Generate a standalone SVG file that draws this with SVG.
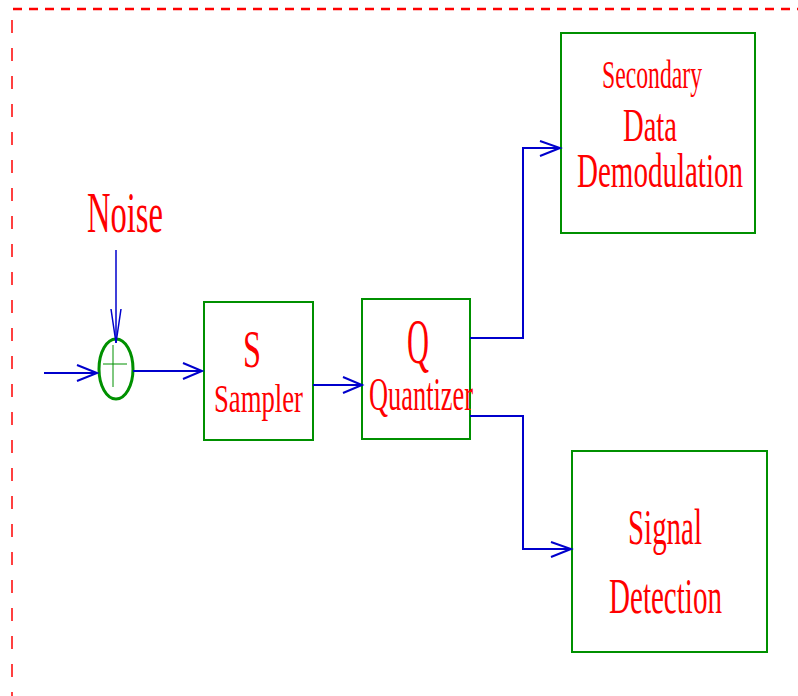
<svg xmlns="http://www.w3.org/2000/svg" width="798" height="696" viewBox="0 0 798 696">
<style>
.box{fill:none;stroke:#009000;stroke-width:2}
.con{fill:none;stroke:#0000cc;stroke-width:2}
.t{font-family:"Liberation Serif","Times New Roman",serif;fill:#ff0000}
</style>
<rect width="798" height="696" fill="#ffffff"/>
<g id="frame">
<line x1="13" y1="9" x2="798" y2="9" stroke="#ff0000" stroke-width="2.5" stroke-dasharray="9 7"/>
<line x1="12" y1="20" x2="12" y2="696" stroke="#ff4040" stroke-width="2" stroke-dasharray="13 15"/>
</g>
<g id="noise">
<text class="t" x="87" y="232" font-size="56" textLength="76" lengthAdjust="spacingAndGlyphs">Noise</text>
</g>
<g id="sum">
<ellipse cx="116" cy="369" rx="17" ry="30" fill="none" stroke="#009000" stroke-width="3"/>
<line x1="103" y1="364" x2="127" y2="364" stroke="#009000" stroke-width="1"/>
<line x1="113" y1="345" x2="113" y2="387" stroke="#009000" stroke-width="1"/>
</g>
<g id="sampler">
<rect class="box" x="204" y="302" width="109" height="138"/>
<text class="t" x="243" y="367" font-size="52" textLength="18" lengthAdjust="spacingAndGlyphs">S</text>
<text class="t" x="214" y="412" font-size="39" textLength="89" lengthAdjust="spacingAndGlyphs">Sampler</text>
</g>
<g id="quantizer">
<rect class="box" x="362" y="299" width="108" height="140"/>
<text class="t" x="407" y="363" font-size="64" textLength="22" lengthAdjust="spacingAndGlyphs">Q</text>
<text class="t" x="369" y="410" font-size="46" textLength="104" lengthAdjust="spacingAndGlyphs">Quantizer</text>
</g>
<g id="secondary">
<rect class="box" x="561" y="33" width="194" height="200"/>
<text class="t" x="602" y="88" font-size="39" textLength="100" lengthAdjust="spacingAndGlyphs">Secondary</text>
<text class="t" x="623" y="141" font-size="46" textLength="54" lengthAdjust="spacingAndGlyphs">Data</text>
<text class="t" x="577" y="187" font-size="48" textLength="166" lengthAdjust="spacingAndGlyphs">Demodulation</text>
</g>
<g id="detection">
<rect class="box" x="572" y="451" width="195" height="201"/>
<text class="t" x="628" y="544" font-size="51" textLength="74" lengthAdjust="spacingAndGlyphs">Signal</text>
<text class="t" x="609" y="613" font-size="50" textLength="113" lengthAdjust="spacingAndGlyphs">Detection</text>
</g>
<g id="connectors">
<line x1="116" y1="250" x2="116" y2="343" stroke="#0000cc" stroke-width="1.5"/>
<polyline points="111,309 116,343 121,309" fill="none" stroke="#0000cc" stroke-width="1.5"/>
<line class="con" x1="44" y1="373" x2="97" y2="373"/>
<polyline class="con" points="77,365 97,373 77,381"/>
<line class="con" x1="133" y1="371" x2="202" y2="371"/>
<polyline class="con" points="183,363 202,371 183,379"/>
<line class="con" x1="313" y1="385" x2="362" y2="385"/>
<polyline class="con" points="343,377 362,385 343,393"/>
<polyline class="con" points="470,338 523,338 523,148 560,148"/>
<polyline class="con" points="540,141 560,148 540,156"/>
<polyline class="con" points="470,416 523,416 523,549 571,549"/>
<polyline class="con" points="551,542 571,549 551,557"/>
</g>
</svg>
